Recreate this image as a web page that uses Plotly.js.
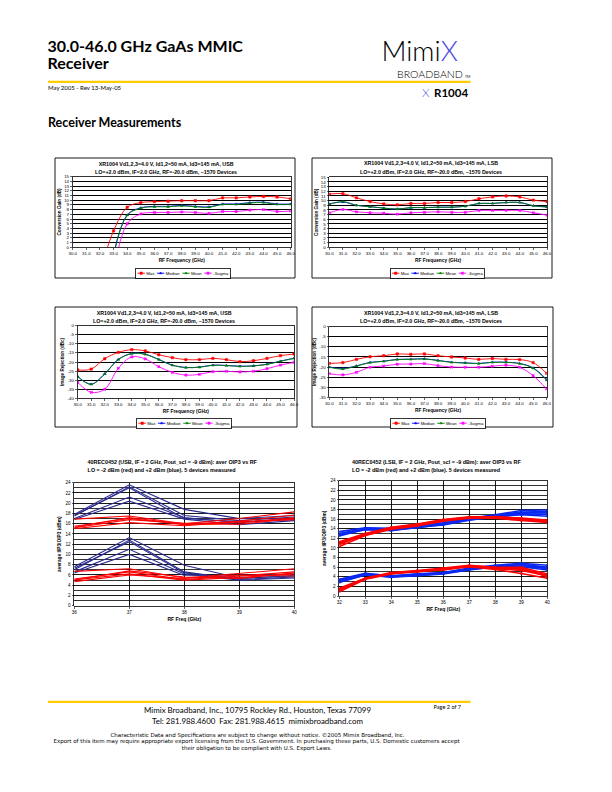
<!DOCTYPE html>
<html><head><meta charset="utf-8">
<script src="https://cdn.plot.ly/plotly-3.0.1.min.js"></script>
<style>
html,body{margin:0;padding:0;overflow:hidden;background:#fff;width:612px;height:792px}
#wrap{position:absolute;left:0;top:0;transform:scale(0.25);transform-origin:0 0}
</style></head><body><div id="wrap"><div id="page"></div></div>
<script>
// ---------------- DATA ----------------
const rfFreqs = [30,31,32,33,34,35,36,37,38,39,40,41,42,43,44,45,46];
const rfLabels = ['30.0','31.0','32.0','33.0','34.0','35.0','36.0','37.0','38.0','39.0','40.0','41.0','42.0','43.0','44.0','45.0','46.0'];
const statNames = ['Max','Median','Mean','-3sigma'];

// Conversion gain, USB (dB)
const usbGainMax    = [null,null,-5.3,3.5,8.5,9.5,9.7,9.8,9.9,9.9,9.9,10.5,10.5,10.7,10.8,10.7,10.3];
const usbGainMedian = [null,null,null,-1.5,6.9,8.4,8.7,8.7,8.9,8.7,8.6,9.2,9.2,9.5,9.6,9.2,9.2];
const usbGainMean   = [null,null,null,-1.7,6.8,8.3,8.6,8.6,8.8,8.6,8.5,9.1,9.1,9.4,9.5,9.1,9.1];
const usbGainSigma  = [null,null,null,-5.0,5.0,7.1,7.4,7.4,7.5,7.4,7.2,7.6,7.6,7.9,8.0,7.6,7.7];

// Conversion gain, LSB (dB)
const lsbGainMax    = [11.4,11.5,10.6,9.8,9.3,9.1,9.4,9.4,9.6,9.6,9.8,10.4,10.8,11.0,10.8,10.1,9.8];
const lsbGainMedian = [9.3,9.7,9.0,8.7,8.4,8.2,8.5,8.5,8.6,8.6,8.8,9.4,9.4,9.6,9.6,8.9,8.7];
const lsbGainMean   = [9.2,9.8,9.0,8.7,8.4,8.2,8.5,8.5,8.6,8.6,8.8,9.4,9.4,9.6,9.6,8.9,8.6];
const lsbGainSigma  = [7.4,8.1,7.6,7.4,7.3,7.1,7.4,7.5,7.6,7.5,7.5,7.9,7.9,7.9,7.9,7.4,6.9];

// Image rejection, USB (dBc)
const usbRejMax    = [-24.4,-23.9,-18.2,-14.7,-13.2,-13.9,-16.0,-17.6,-18.7,-18.7,-18.0,-18.7,-19.8,-19.3,-18.0,-16.5,-15.6];
const usbRejMedian = [-28.0,-32.2,-26.5,-18.6,-15.3,-15.7,-18.6,-21.7,-23.0,-22.8,-21.7,-21.9,-22.3,-22.1,-21.2,-19.5,-17.9];
const usbRejMean   = [-28.1,-32.3,-26.6,-18.7,-15.4,-15.8,-18.7,-21.8,-23.1,-22.9,-21.8,-22.0,-22.4,-22.2,-21.3,-19.6,-18.0];
const usbRejSigma  = [-31.2,-36.7,-35.0,-23.5,-17.2,-18.3,-22.6,-25.7,-27.2,-26.8,-25.3,-25.1,-25.5,-25.1,-23.7,-21.7,-20.2];

// Image rejection, LSB (dBc)
const lsbRejMax    = [-18.2,-17.8,-16.2,-14.9,-14.4,-13.5,-13.7,-13.5,-14.4,-15.0,-15.5,-16.2,-15.8,-16.2,-16.3,-17.8,-23.1];
const lsbRejMedian = [-20.0,-20.7,-19.4,-17.7,-17.1,-16.2,-16.1,-15.9,-16.7,-17.6,-17.9,-18.2,-17.6,-17.6,-18.2,-20.4,-26.2];
const lsbRejMean   = [-20.1,-21.0,-19.5,-17.8,-17.2,-16.3,-16.2,-16.0,-16.8,-17.7,-18.0,-18.3,-17.7,-17.7,-18.3,-20.6,-26.6];
const lsbRejSigma  = [-23.3,-23.9,-22.6,-20.1,-19.5,-18.6,-18.5,-18.3,-19.3,-20.0,-20.1,-20.1,-19.6,-19.1,-20.1,-24.3,-30.9];

const gainTicks = [0,1,2,3,4,5,6,7,8,9,10,11,12,13,14,15];
const usbRejTicks = [0,-5,-10,-15,-20,-25,-30,-35,-40];
const usbRejTickText = ['0','-5','-10','-15','-20','-25','-30','-35','-40'];
const lsbRejTicks = [0,-5,-10,-15,-20,-25,-30,-35];
const lsbRejTickText = ['0','-5','-10','-15','-20','-25','-30','-35'];

// IP3 vs RF, USB (5 devices), dBm
const usbIp3Freqs = [36,37,38,39,40];
const usbOip3Blue = [[17.8,23.6,18.8,17.0,17.6],[17.5,23.2,17.6,16.6,17.3],[17.0,21.2,17.2,16.2,17.0],[16.8,20.4,16.9,15.8,16.6],[17.6,23.0,17.0,16.4,16.8]];
const usbOip3Red  = [[16.9,17.5,16.0,17.0,18.3],[15.5,17.0,15.8,16.5,17.7],[15.2,16.8,16.1,16.2,17.2],[15.0,16.2,15.6,16.4,16.8],[15.3,17.2,15.9,15.9,17.0]];
const usbIip3Blue = [[7.6,13.3,7.9,5.4,5.8],[7.0,12.8,6.6,5.1,5.6],[6.6,11.0,6.2,5.0,5.4],[6.4,10.0,5.9,5.8,6.2],[7.3,12.5,6.4,5.3,5.9]];
const usbIip3Red  = [[6.7,7.2,5.4,6.3,7.2],[5.2,6.6,5.1,5.8,6.6],[5.0,6.2,5.0,5.5,6.2],[4.7,6.0,5.3,6.0,5.8],[5.0,6.8,5.6,5.3,6.4]];

// IP3 vs RF, LSB (5 devices), dBm
const lsbIp3Freqs = [32,33,34,35,36,37,38,39,40];
const lsbOip3Blue = [[13.4,14.2,14.1,14.6,15.5,16.2,16.9,17.8,17.9],[12.8,14.0,13.8,14.4,15.0,16.0,16.6,17.3,17.3],[12.5,13.9,13.6,14.3,14.8,15.8,16.5,16.9,16.6],[13.0,14.1,13.9,14.5,15.2,16.1,16.8,17.5,17.6],[12.7,13.8,13.7,14.2,14.9,15.9,16.4,17.1,17.0]];
const lsbOip3Red  = [[11.3,13.0,14.3,15.0,15.9,16.5,16.5,16.2,15.8],[11.0,12.8,14.1,14.8,15.7,16.3,16.4,15.9,15.5],[10.3,12.6,13.9,14.6,15.6,16.2,16.2,15.7,15.3],[10.7,12.9,14.2,14.9,15.8,16.4,16.3,16.0,15.6],[11.1,12.7,14.0,14.7,15.6,16.3,16.5,16.1,15.4]];
const lsbIip3Blue = [[3.5,4.7,4.2,4.6,4.9,5.8,6.4,6.8,6.4],[3.2,4.5,4.0,4.4,4.7,5.6,6.2,6.5,5.9],[2.8,4.4,3.9,4.2,4.6,5.4,6.1,6.1,5.4],[3.3,4.6,4.1,4.5,4.8,5.7,6.3,6.6,6.0],[3.0,4.4,4.0,4.3,4.7,5.5,6.0,6.3,5.7]];
const lsbIip3Red  = [[1.6,3.7,4.9,5.3,5.8,6.4,6.0,6.0,4.6],[1.3,3.6,4.8,5.2,5.6,6.2,5.8,5.6,4.3],[0.9,3.5,4.6,5.1,5.4,6.1,5.5,4.7,3.7],[1.2,3.6,4.7,5.2,5.5,6.2,5.7,5.3,4.2],[1.4,3.7,4.8,5.0,5.6,6.3,5.9,5.8,4.0]];

// ---------------- RENDER ----------------
const K = 4, W = 612, H = 792;
const X = p => p / W, Y = p => 1 - p / H;
const s = v => v * K;
const ARIAL = 'Liberation Sans, Arial, sans-serif';
const GILL = 'Lato, Open Sans, sans-serif';
const SMALL = 'DejaVu Sans, Verdana, sans-serif';

const statStyle = {
  'Max':     {color:'#FF0000', symbol:'square'},
  'Median':  {color:'#0000FF', symbol:'triangle-up'},
  'Mean':    {color:'#008000', symbol:'triangle-up'},
  '-3sigma': {color:'#FF00FF', symbol:'x'}
};

const traces = [];
const layout = {
  width: W*K, height: H*K, margin:{l:0,r:0,t:0,b:0},
  paper_bgcolor:'#fff', plot_bgcolor:'#fff', showlegend:true,
  annotations:[], shapes:[]
};

const axBase = {
  showline:true, mirror:true, linecolor:'#000', linewidth:s(0.8),
  ticks:'outside', ticklen:s(2), tickwidth:s(0.6), tickcolor:'#000',
  tickfont:{family:ARIAL, size:s(4.4), color:'#000'},
  zeroline:false, fixedrange:true, automargin:false
};

function addAxes(n, xb, yb, xo, yo){
  const sfx = n===1 ? '' : String(n);
  layout['xaxis'+sfx] = Object.assign({}, axBase, {domain:[X(xb[0]),X(xb[1])], anchor:'y'+sfx}, xo);
  layout['yaxis'+sfx] = Object.assign({}, axBase, {domain:[Y(yb[1]),Y(yb[0])], anchor:'x'+sfx}, yo);
}

function statChart(n, xb, yb, yopts, series, legCx, legTop){
  const sfx = n===1 ? '' : String(n);
  addAxes(n, xb, yb,
    {range:[30,46], tickvals:rfFreqs, ticktext:rfLabels, showgrid:false,
     title:{text:'<b>RF Frequency (GHz)</b>', font:{family:ARIAL, size:s(4.8), color:'#000'}, standoff:s(3)}},
    Object.assign({showgrid:true, gridcolor:'#000', gridwidth:s(1.0)}, yopts));
  statNames.forEach((nm, i) => {
    const st = statStyle[nm];
    traces.push({type:'scatter', mode:'lines+markers', name:nm, x:rfFreqs, y:series[i],
      xaxis:'x'+sfx, yaxis:'y'+sfx, legend: n===1 ? 'legend' : 'legend'+n,
      line:{color:st.color, width:s(0.9), shape:'spline', smoothing:1},
      marker:{symbol:st.symbol, size:s(2.4), color:st.color, line:{color:st.color, width:s(0.5)}},
      connectgaps:false, cliponaxis:true, hoverinfo:'skip'});
  });
  layout[n===1 ? 'legend' : 'legend'+n] = {
    x:X(legCx), y:Y(legTop), xref:'paper', yref:'paper', xanchor:'center', yanchor:'top',
    orientation:'h', bgcolor:'#fff', bordercolor:'#000', borderwidth:s(0.8),
    font:{family:ARIAL, size:s(4.3), color:'#000'}, itemwidth:30, tracegroupgap:0, traceorder:'normal'
  };
}

function ip3Chart(n, xb, yb, xs, groups, blueColor, lw, withMarkers){
  const sfx = String(n);
  addAxes(n, xb, yb,
    {range:[xs[0], xs[xs.length-1]], dtick:1, tick0:xs[0], showgrid:true, gridcolor:'#000', gridwidth:s(0.9),
     tickfont:{family:ARIAL, size:s(4.6), color:'#000'},
     title:{text:'<b>RF Freq (GHz)</b>', font:{family:ARIAL, size:s(5), color:'#000'}, standoff:s(3)}},
    {range:[0,24], dtick:2, showgrid:true, gridcolor:'#000', gridwidth:s(0.9),
     minor:{dtick:1, showgrid:true, gridcolor:'#000', gridwidth:s(0.8), ticks:''},
     tickfont:{family:ARIAL, size:s(4.6), color:'#000'},
     title:{text:'<b>average IIP3/OIP3 (dBm)</b>', font:{family:ARIAL, size:s(4.8), color:'#000'}, standoff:s(3)}});
  groups.forEach(g => {
    g.data.forEach(yv => {
      traces.push({type:'scatter', mode: withMarkers ? 'lines+markers' : 'lines', x:xs, y:yv,
        xaxis:'x'+sfx, yaxis:'y'+sfx, showlegend:false, hoverinfo:'skip',
        line:{color: g.red ? '#FF0000' : blueColor, width:s(lw)},
        marker:{symbol:'x', size:s(2.2), color: g.red ? '#FF0000' : blueColor}});
    });
  });
}

statChart(1, [72.7,290.7], [176.7,247.3],
  {range:[0,15], tickvals:gainTicks, title:{text:'<b>Conversion Gain (dB)</b>', font:{family:ARIAL,size:s(4.6),color:'#000'}, standoff:s(2)}},
  [usbGainMax, usbGainMedian, usbGainMean, usbGainSigma], 183, 268);
statChart(2, [329.3,547], [177.3,247.3],
  {range:[0,15], tickvals:gainTicks, title:{text:'<b>Conversion Gain (dB)</b>', font:{family:ARIAL,size:s(4.6),color:'#000'}, standoff:s(2)}},
  [lsbGainMax, lsbGainMedian, lsbGainMean, lsbGainSigma], 437.5, 268);
statChart(3, [77.7,294], [325.7,398.3],
  {range:[-40,0], tickvals:usbRejTicks, ticktext:usbRejTickText, title:{text:'<b>Image Rejection (dBc)</b>', font:{family:ARIAL,size:s(4.6),color:'#000'}, standoff:s(2)}},
  [usbRejMax, usbRejMedian, usbRejMean, usbRejSigma], 184, 418);
statChart(4, [329.3,546.7], [326.7,397.3],
  {range:[-35,0], tickvals:lsbRejTicks, ticktext:lsbRejTickText, title:{text:'<b>Image Rejection (dBc)</b>', font:{family:ARIAL,size:s(4.6),color:'#000'}, standoff:s(2)}},
  [lsbRejMax, lsbRejMedian, lsbRejMean, lsbRejSigma], 438, 418);

ip3Chart(5, [74.3,294.3], [482.7,605.7], usbIp3Freqs,
  [{red:false, data:usbOip3Blue},{red:false, data:usbIip3Blue},{red:true, data:usbOip3Red},{red:true, data:usbIip3Red}],
  '#2A2A8E', 1.1, false);
ip3Chart(6, [339.3,547.3], [480.7,596], lsbIp3Freqs,
  [{red:false, data:lsbOip3Blue},{red:false, data:lsbIip3Blue},{red:true, data:lsbOip3Red},{red:true, data:lsbIip3Red}],
  '#0A28F0', 1.6, true);

// ---- page text ----
function note(text, x, y, size, opts){
  layout.annotations.push(Object.assign({text, x:X(x), y:Y(y), xref:'paper', yref:'paper',
    showarrow:false, xanchor:'left', yanchor:'middle',
    font:{family:GILL, size:s(size), color:'#000'}}, opts || {}));
}
note('<b>30.0-46.0 GHz GaAs MMIC</b>', 47, 45.3, 16);
note('<b>Receiver</b>', 47, 62.8, 16);
note('May 2005 - Rev 13-May-05', 47.5, 87.8, 6.0);
note('<b>Receiver Measurements</b>', 47.5, 122.5, 12.5);
note('Mimi<span style="color:#4B4BE0">X</span>', 381, 50.5, 27.5, {font:{family:GILL, size:s(27.5), color:'#000', weight:300}});
note('BROADBAND', 396.5, 73.3, 10.6, {font:{family:GILL, size:s(10.6), color:'#000', weight:300}});
note('TM', 464.5, 76.3, 3.5);
note('X', 421.5, 92, 12, {font:{family:GILL, size:s(12), color:'#4B4BE0', weight:300}});
note('<b>R1004</b>', 433.5, 92.3, 11.5);

// chart titles
function ctitle(text, x, y, anchor, size){
  layout.annotations.push({text:'<b>'+text+'</b>', x:X(x), y:Y(y), xref:'paper', yref:'paper', showarrow:false,
    xanchor:anchor, yanchor:'middle', font:{family:ARIAL, size:s(size), color:'#000'}});
}
ctitle('XR1004 Vd1,2,3=4.0 V, Id1,2=50 mA, Id3=145 mA, USB', 166, 163.6, 'center', 5.3);
ctitle('LO=+2.0 dBm, IF=2.0 GHz, RF=-20.0 dBm, ~1570 Devices', 166, 172.2, 'center', 5.3);
ctitle('XR1004 Vd1,2,3=4.0 V, Id1,2=50 mA, Id3=145 mA, LSB', 431, 163.4, 'center', 5.3);
ctitle('LO=+2.0 dBm, IF=2.0 GHz, RF=-20.0 dBm, ~1570 Devices', 431, 171.8, 'center', 5.3);
ctitle('XR1004 Vd1,2,3=4.0 V, Id1,2=50 mA, Id3=145 mA, USB', 164, 313.3, 'center', 5.3);
ctitle('LO=+2.0 dBm, IF=2.0 GHz, RF=-20.0 dBm, ~1570 Devices', 164, 320.7, 'center', 5.3);
ctitle('XR1004 Vd1,2,3=4.0 V, Id1,2=50 mA, Id3=145 mA, LSB', 431, 313.3, 'center', 5.3);
ctitle('LO=+2.0 dBm, IF=2.0 GHz, RF=-20.0 dBm, ~1570 Devices', 431, 320.7, 'center', 5.3);
ctitle('40REC0452 (USB, IF = 2 GHz, Pout_scl = -9 dBm): aver OIP3 vs RF', 87, 462, 'left', 5.4);
ctitle('LO = -2 dBm (red) and +2 dBm (blue). 5 devices measured', 87, 470, 'left', 5.4);
ctitle('40REC0452 (LSB, IF = 2 GHz, Pout_scl = -9 dBm): aver OIP3 vs RF', 351.5, 462, 'left', 5.4);
ctitle('LO = -2 dBm (red) and +2 dBm (blue). 5 devices measured', 351.5, 470, 'left', 5.4);

// footer
note('Mimix Broadband, Inc., 10795 Rockley Rd., Houston, Texas 77099', 257.5, 709.8, 7.9, {xanchor:'center'});
note('Tel: 281.988.4600&nbsp;&nbsp;Fax: 281.988.4615&nbsp;&nbsp;mimixbroadband.com', 257.5, 721, 7.9, {xanchor:'center'});
note('Page 2 of 7', 433, 707, 5.6);
const smallFont = {family:SMALL, size:s(5.5), color:'#000'};
note('Characteristic Data and Specifications are subject to change without notice. ©2005 Mimix Broadband, Inc.', 257.5, 734.6, 5.5, {xanchor:'center', font:smallFont});
note('Export of this item may require appropriate export licensing from the U.S. Government. In purchasing these parts, U.S. Domestic customers accept', 256.7, 741.1, 5.5, {xanchor:'center', font:smallFont});
note('their obligation to be compliant with U.S. Export Laws.', 256.7, 747.6, 5.5, {xanchor:'center', font:smallFont});

// lines and chart frames
function hline(x0, x1, y, color, w){
  layout.shapes.push({type:'line', xref:'paper', yref:'paper', x0:X(x0), x1:X(x1), y0:Y(y), y1:Y(y), line:{color, width:s(w)}});
}
function frame(x0, y0, x1, y1){
  layout.shapes.push({type:'rect', xref:'paper', yref:'paper', x0:X(x0), x1:X(x1), y0:Y(y1), y1:Y(y0), line:{color:'#000', width:s(0.9)}, fillcolor:'rgba(0,0,0,0)', layer:'below'});
}
hline(48, 470.5, 81.8, '#FFCC00', 2.2);
hline(48, 470.5, 701.8, '#FFCC00', 2.2);
frame(55, 158, 295, 278);
frame(312, 158, 552, 278);
frame(55, 307, 297, 427);
frame(312, 307, 553, 427);

Plotly.newPlot('page', traces, layout, {staticPlot:true, displayModeBar:false, responsive:false});
</script></body></html>
